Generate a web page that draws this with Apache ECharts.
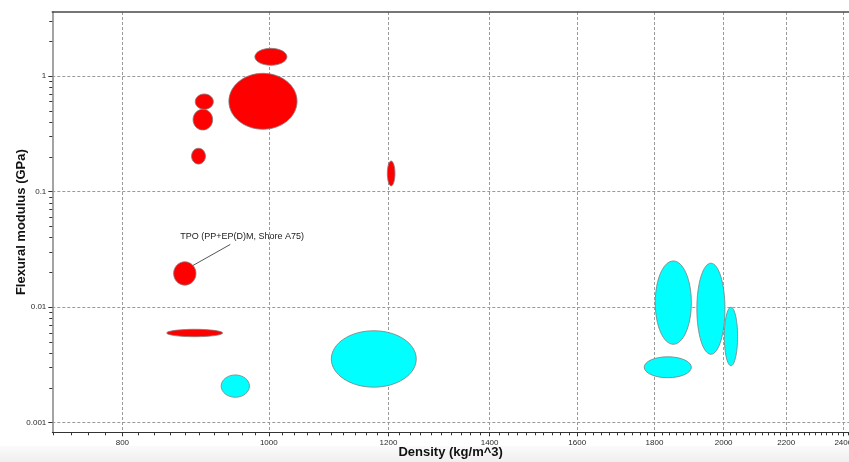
<!DOCTYPE html>
<html>
<head>
<meta charset="utf-8">
<script src="https://cdn.jsdelivr.net/npm/echarts@6/dist/echarts.min.js"></script>
<style>
  html, body { margin: 0; padding: 0; background: #ffffff; }
  #chart { width: 849px; height: 462px; }
</style>
</head>
<body>
<div id="chart"></div>
<script>
// Property envelopes for each material: density range (kg/m^3) and flexural modulus range (GPa)
const densityLow  = [979, 941, 894, 891, 889, 1198, 865, 856, 930, 1100, 1802, 1920, 2002, 1772];
const densityHigh = [1028, 1044, 919, 918, 908, 1212, 895, 932, 971, 1252, 1904, 2004, 2043, 1904];
const modulusLow  = [1.238, 0.346, 0.515, 0.341, 0.173, 0.112, 0.0155, 0.00555, 0.00166, 0.00203, 0.00477, 0.00391, 0.00311, 0.00245];
const modulusHigh = [1.736, 1.055, 0.699, 0.515, 0.237, 0.184, 0.0247, 0.00643, 0.00259, 0.00625, 0.0251, 0.0240, 0.00997, 0.00372];
// 0 = red family, 1 = cyan family
const family = [0, 0, 0, 0, 0, 0, 0, 0, 1, 1, 1, 1, 1, 1];
const pointLabels = ['', '', '', '', '', '', 'TPO (PP+EP(D)M, Shore A75)', '', '', '', '', '', '', ''];

const familyColors = ['#ff0000', '#00ffff'];

// Axis ticks
const xMajorTicks = [800, 1000, 1200, 1400, 1600, 1800, 2000, 2200, 2400];
const yMajorTicks = [0.001, 0.01, 0.1, 1];
const xRange = [719, 2421];
const yRange = [0.000826, 3.58];

const xMinorTicks = [];
for (let d = 720; d <= 2420; d += 20) xMinorTicks.push(d);
const yMinorTicks = [];
[0.001, 0.01, 0.1, 1].forEach(function (dec) {
  for (let k = 1; k <= 9; k++) {
    const v = +(dec * k).toPrecision(3);
    if (v >= yRange[0] && v <= yRange[1]) yMinorTicks.push(v);
  }
});

const labelFont = { fontFamily: 'Liberation Sans, Arial, sans-serif', fontSize: 8, color: '#2a2a2a' };
const gridDash = { color: '#9a9a9a', type: [3, 2], width: 1 };
const fmt = function (v) { return String(+(+v).toPrecision(3)); };

const chart = echarts.init(document.getElementById('chart'), null, { renderer: 'canvas' });

chart.setOption({
  animation: false,
  backgroundColor: '#ffffff',
  graphic: [{
    type: 'rect',
    z: -10,
    shape: { x: 0, y: 446, width: 849, height: 16 },
    style: {
      fill: new echarts.graphic.LinearGradient(0, 0, 0, 1, [
        { offset: 0, color: '#fbfbfb' },
        { offset: 1, color: '#efefef' }
      ])
    }
  }],
  grid: { left: 52.3, right: 0, top: 12, height: 420.3, containLabel: false, outerBoundsMode: 'none' },
  xAxis: [
    {
      type: 'log', min: xRange[0], max: xRange[1], position: 'bottom',
      name: 'Density (kg/m^3)', nameLocation: 'middle', nameGap: 14, nameMoveOverlap: false,
      nameTextStyle: { fontFamily: 'Liberation Sans, Arial, sans-serif', fontSize: 13, fontWeight: 'bold', color: '#111111' },
      axisLine: { show: true, lineStyle: { color: '#333333', width: 1 } },
      axisTick: { show: true, inside: false, length: 4, customValues: xMajorTicks, lineStyle: { color: '#333333' } },
      axisLabel: Object.assign({ show: true, margin: 6, customValues: xMajorTicks, formatter: fmt, hideOverlap: false }, labelFont),
      splitLine: { show: true, lineStyle: gridDash },
      minorTick: { show: false }, minorSplitLine: { show: false }
    },
    {
      type: 'log', min: xRange[0], max: xRange[1], position: 'bottom', gridIndex: 0,
      axisLine: { show: false },
      axisTick: { show: true, inside: false, length: 3, customValues: xMinorTicks, lineStyle: { color: '#333333' } },
      axisLabel: { show: false },
      splitLine: { show: false }
    },
    {
      type: 'log', min: xRange[0], max: xRange[1], position: 'top', gridIndex: 0,
      axisLine: { show: true, lineStyle: { color: '#4a4a4a', width: 1.5 } },
      axisTick: { show: false }, axisLabel: { show: false }, splitLine: { show: false }
    }
  ],
  yAxis: [
    {
      type: 'log', logBase: 10, min: yRange[0], max: yRange[1], position: 'left',
      name: 'Flexural modulus (GPa)', nameLocation: 'middle', nameGap: 24, nameRotate: 90, nameMoveOverlap: false,
      nameTextStyle: { fontFamily: 'Liberation Sans, Arial, sans-serif', fontSize: 13, fontWeight: 'bold', color: '#111111' },
      axisLine: { show: true, lineStyle: { color: '#9a9a9a', width: 1.8 } },
      axisTick: { show: true, inside: false, length: 4, customValues: yMajorTicks, lineStyle: { color: '#333333' } },
      axisLabel: Object.assign({ show: true, margin: 6, customValues: yMajorTicks, formatter: fmt }, labelFont),
      splitLine: { show: true, lineStyle: gridDash },
      minorTick: { show: false }, minorSplitLine: { show: false }
    },
    {
      type: 'log', logBase: 10, min: yRange[0], max: yRange[1], position: 'left', gridIndex: 0,
      axisLine: { show: false },
      axisTick: { show: true, inside: false, length: 3, customValues: yMinorTicks, lineStyle: { color: '#333333' } },
      axisLabel: { show: false },
      splitLine: { show: false }
    }
  ],
  series: [{
    type: 'custom',
    xAxisIndex: 0,
    yAxisIndex: 0,
    clip: true,
    data: densityLow.map(function (_, i) {
      return [densityLow[i], densityHigh[i], modulusLow[i], modulusHigh[i]];
    }),
    encode: { x: [0, 1], y: [2, 3] },
    renderItem: function (params, api) {
      const i = params.dataIndex;
      const a = api.coord([api.value(0), api.value(3)]);
      const b = api.coord([api.value(1), api.value(2)]);
      const cx = (a[0] + b[0]) / 2;
      const cy = (a[1] + b[1]) / 2;
      const rx = Math.abs(b[0] - a[0]) / 2;
      const ry = Math.abs(b[1] - a[1]) / 2;
      const children = [{
        type: 'ellipse',
        shape: { cx: cx, cy: cy, rx: rx, ry: ry },
        style: { fill: familyColors[family[i]], stroke: '#7d7d7d', lineWidth: 0.8 }
      }];
      if (pointLabels[i]) {
        const ang = -43 * Math.PI / 180;
        const sx = cx + rx * Math.cos(ang);
        const sy = cy + ry * Math.sin(ang);
        children.push({
          type: 'line',
          shape: { x1: sx, y1: sy, x2: cx + 45.5, y2: cy - 29 },
          style: { stroke: '#555555', lineWidth: 1 }
        });
        children.push({
          type: 'text',
          x: cx - 4.5,
          y: cy - 36.6,
          style: {
            text: pointLabels[i],
            fontFamily: 'Liberation Sans, Arial, sans-serif',
            fontSize: 9,
            fill: '#222222',
            verticalAlign: 'middle',
            align: 'left'
          }
        });
      }
      return { type: 'group', children: children };
    }
  }]
});
</script>
</body>
</html>
